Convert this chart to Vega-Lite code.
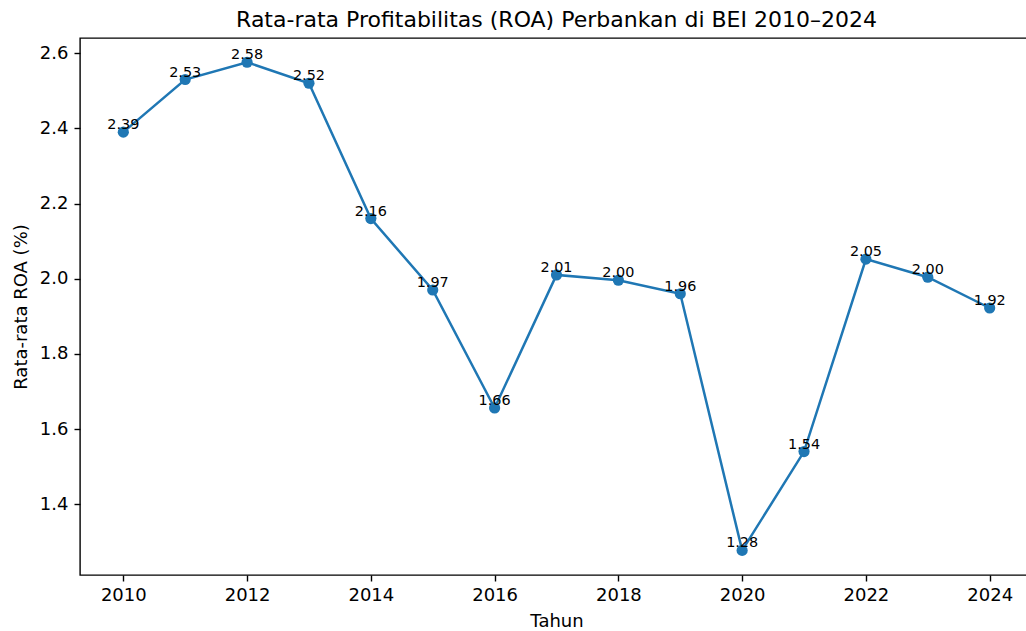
{
  "$schema": "https://vega.github.io/schema/vega-lite/v6.json",
  "width": 953,
  "height": 537,
  "autosize": {"type": "none"},
  "padding": {"left": 80, "top": 38, "right": 0, "bottom": 56},
  "config": {
    "font": "DejaVu Sans",
    "view": {"stroke": "#000000", "strokeWidth": 1.4},
    "axis": {
      "grid": false,
      "domain": false,
      "tickColor": "#000000",
      "tickWidth": 1.4,
      "tickSize": 6,
      "labelColor": "#000000",
      "labelFontSize": 18,
      "titleColor": "#000000",
      "titleFontSize": 18,
      "titleFontWeight": "normal"
    }
  },
  "title": {
    "text": "Rata-rata Profitabilitas (ROA) Perbankan di BEI 2010–2024",
    "fontSize": 22,
    "fontWeight": "normal",
    "color": "#000000",
    "anchor": "middle",
    "offset": 6
  },
  "data": {
    "values": [
      {"tahun": 2010, "roa": 2.39},
      {"tahun": 2011, "roa": 2.53},
      {"tahun": 2012, "roa": 2.576},
      {"tahun": 2013, "roa": 2.52},
      {"tahun": 2014, "roa": 2.16},
      {"tahun": 2015, "roa": 1.97},
      {"tahun": 2016, "roa": 1.656},
      {"tahun": 2017, "roa": 2.01},
      {"tahun": 2018, "roa": 1.996},
      {"tahun": 2019, "roa": 1.96},
      {"tahun": 2020, "roa": 1.277},
      {"tahun": 2021, "roa": 1.54},
      {"tahun": 2022, "roa": 2.052},
      {"tahun": 2023, "roa": 2.004},
      {"tahun": 2024, "roa": 1.922}
    ]
  },
  "encoding": {
    "x": {
      "field": "tahun",
      "type": "quantitative",
      "scale": {"domain": [2009.3, 2024.7], "nice": false, "zero": false},
      "axis": {"values": [2010, 2012, 2014, 2016, 2018, 2020, 2022, 2024], "format": "d", "title": "Tahun", "labelPadding": 5, "titlePadding": 8}
    },
    "y": {
      "field": "roa",
      "type": "quantitative",
      "scale": {"domain": [1.2115, 2.6405], "nice": false, "zero": false},
      "axis": {"values": [1.4, 1.6, 1.8, 2.0, 2.2, 2.4, 2.6], "format": ".1f", "title": "Rata-rata ROA (%)", "labelPadding": 6, "titlePadding": 9}
    }
  },
  "layer": [
    {
      "mark": {"type": "line", "color": "#1f77b4", "strokeWidth": 2.5, "point": {"filled": true, "color": "#1f77b4", "size": 125, "opacity": 1}}
    },
    {
      "mark": {"type": "text", "fontSize": 14.4, "color": "#000000", "baseline": "alphabetic", "align": "center", "dy": -3},
      "encoding": {"text": {"field": "roa", "type": "quantitative", "format": ".2f"}}
    }
  ]
}
